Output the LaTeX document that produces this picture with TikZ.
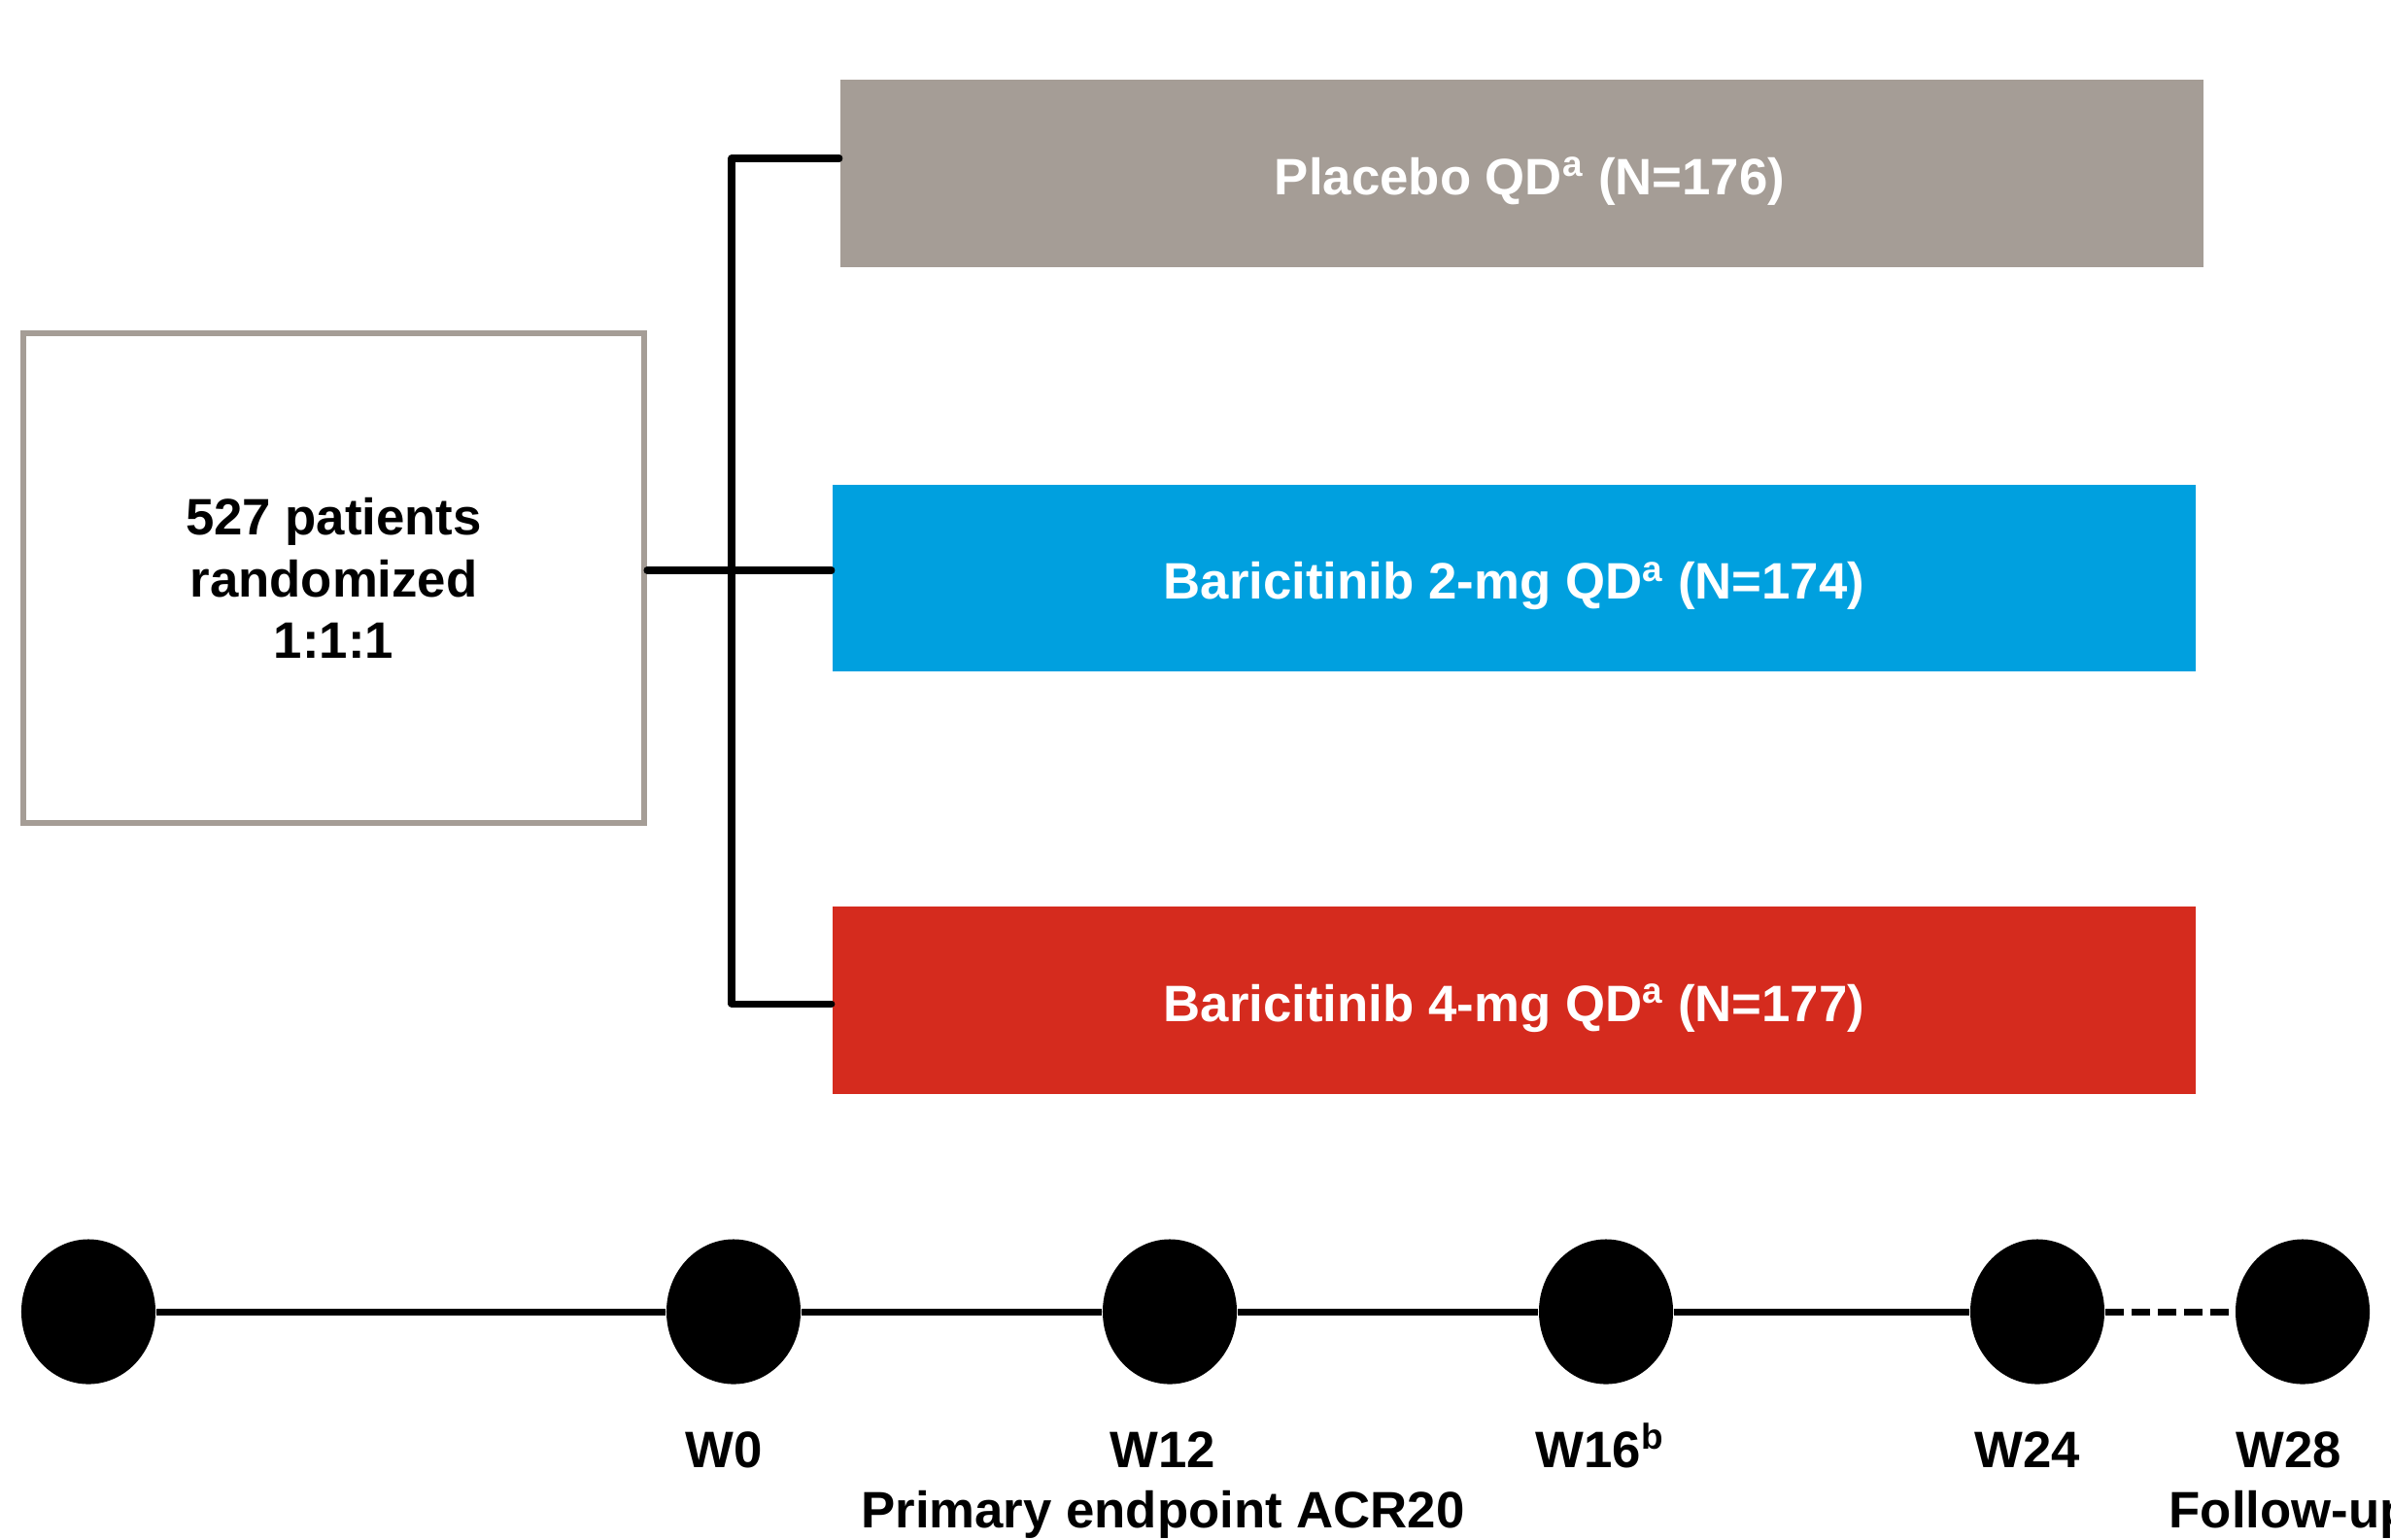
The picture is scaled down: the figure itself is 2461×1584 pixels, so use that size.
\documentclass[tikz,border=0pt]{standalone}
\usepackage{fontspec}
\setmainfont{Liberation Sans}
\usetikzlibrary{shapes.geometric}
\definecolor{pgray}{HTML}{A59D96}
\definecolor{pblue}{HTML}{00A0DF}
\definecolor{pred}{HTML}{D52B1E}
\newcommand{\lowertext}[1]{\raisebox{0pt}[\dimexpr\height+0.16cm\relax]{#1}}
\begin{document}
\begin{tikzpicture}[x=0.01cm,y=-0.01cm,
  txt/.style={font=\fontsize{15}{18}\selectfont\bfseries},
  bar/.style={rectangle, minimum width=14.03cm, minimum height=1.92cm, inner sep=0pt, txt, text=white},
  conn/.style={line width=2pt, line join=round, line cap=round},
  tline/.style={line width=2pt},
  dot/.style={ellipse, fill=black, minimum width=1.38cm, minimum height=1.49cm, inner sep=0pt},
  lbl/.style={txt, anchor=base}]
\useasboundingbox (0,0) rectangle (2461,1584);
% randomisation box
\node[draw=pgray, line width=1.6pt, minimum width=6.39cm, minimum height=5.04cm, txt, align=center] (box) at (343.5,595) {527 patients\\randomized\\1:1:1};
% arms
\node[bar, fill=pgray] (placebo) at (1566.5,178.5) {\lowertext{Placebo QD\textsuperscript{a} (N=176)}\hspace*{-0.16cm}};
\node[bar, fill=pblue] (blue) at (1558.5,595) {\lowertext{Baricitinib 2-mg QD\textsuperscript{a} (N=174)}};
\node[bar, fill=pred] (red) at (1558.5,1029.5) {\lowertext{Baricitinib 4-mg QD\textsuperscript{a} (N=177)}};
% connectors
\coordinate (top) at (753,163);
\coordinate (bot) at (753,1033);
\coordinate (mid) at (753,587);
\draw[conn] (placebo.west |- top) -- (top) -- (bot) -- (red.west |- bot);
\draw[conn] (box.east |- mid) -- (blue.west |- mid);
% timeline
\node[dot] (t0) at (91,1350) {};
\node[dot] (t1) at (755,1350) {};
\node[dot] (t2) at (1204,1350) {};
\node[dot] (t3) at (1653,1350) {};
\node[dot] (t4) at (2097,1350) {};
\node[dot] (t5) at (2370,1350) {};
\draw[tline] (t0) -- (t1);
\draw[tline] (t1) -- (t2);
\draw[tline] (t2) -- (t3);
\draw[tline] (t3) -- (t4);
\draw[tline, dash pattern=on 5.5pt off 2.2pt] (t4) -- (t5);
% labels
\node[lbl] (l0) at (745,1510) {W0};
\node[lbl] (l12) at (1197,1510) {W12};
\node[lbl] (l16) at (1647,1510) {W16\textsuperscript{b}};
\node[lbl] (l24) at (2087,1510) {W24};
\node[lbl] (l28) at (2356,1510) {W28};
\node[lbl] (prim) at (1197,1572) {Primary endpoint ACR20};
\node[txt, anchor=base west, inner sep=0pt] (fu) at (2232,1572) {Follow-up};
\end{tikzpicture}
\end{document}
